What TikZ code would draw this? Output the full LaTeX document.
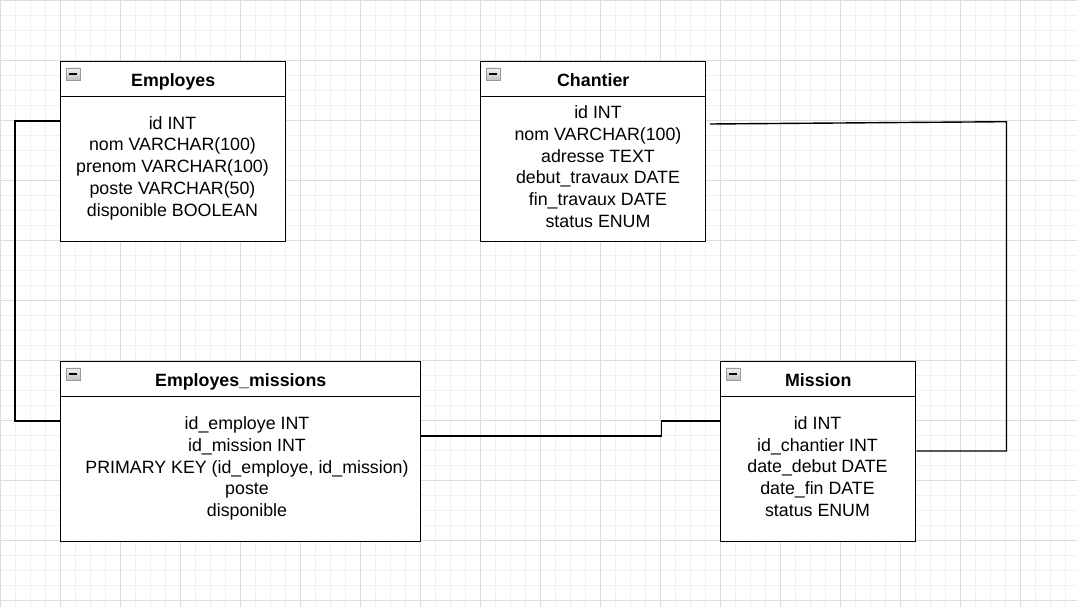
\documentclass[tikz,border=0pt]{standalone}
\usepackage{fontspec}
\setmainfont{Liberation Sans}
\usetikzlibrary{calc}
\definecolor{gridminor}{HTML}{F0F0F0}
\definecolor{gridmajor}{HTML}{DCDCDC}
\newcommand{\us}{\textunderscore}
\begin{document}
\begin{tikzpicture}[x=0.75pt,y=-0.75pt,
  tablehead/.style={draw=black, line width=1.1pt, fill=white, rectangle, anchor=north west,
    inner sep=0pt, minimum height=26.25pt, text height=10.95pt, text depth=0pt,
    font=\fontsize{13.35}{16.3}\selectfont\bfseries},
  tablebody/.style={draw=black, line width=1.1pt, fill=white, rectangle, anchor=north west,
    inner sep=0pt, minimum height=108.75pt},
  fieldtext/.style={align=center, inner sep=0pt, font=\fontsize{13.35}{16.3}\selectfont},
  conn/.style={draw=black, line width=1.05pt},
  minusicon/.style={rectangle, anchor=north west, inner sep=0pt, minimum width=10.2pt,
    minimum height=9.4pt, draw=gray!80, line width=0.6pt, top color=gray!12, bottom color=gray!50,
    path picture={\draw[black, line width=1.3pt]
      ([xshift=2.2pt]path picture bounding box.west) -- ([xshift=-2.2pt]path picture bounding box.east);}},
  gmin/.style={draw=gridminor, line width=0.75pt},
  gmaj/.style={draw=gridmajor, line width=0.75pt}
]
\useasboundingbox (0,0) rectangle (1077,607);
\fill[white] (0,0) rectangle (1077,607);
% grid
\foreach \i in {0,15,...,1080} \draw[gmin] (\i,0) -- (\i,607);
\foreach \j in {0,15,...,600} \draw[gmin] (0,\j) -- (1077,\j);
\foreach \i in {0,60,...,1080} \draw[gmaj] (\i,0) -- (\i,607);
\foreach \j in {0,60,...,600} \draw[gmaj] (0,\j) -- (1077,\j);

% Employes
\node[tablehead, minimum width=168.75pt] (emph) at (60,61) {Employes};
\node[tablebody, minimum width=168.75pt] (empb) at (60,96) {};
\node[minusicon] (empi) at (66,67.5) {};
\node[fieldtext] (empt) at (172.5,168) {id INT\\nom VARCHAR(100)\\prenom VARCHAR(100)\\poste VARCHAR(50)\\disponible BOOLEAN};

% Chantier
\node[tablehead, minimum width=168.75pt] (chah) at (480,61) {Chantier};
\node[tablebody, minimum width=168.75pt] (chab) at (480,96) {};
\node[minusicon] (chai) at (486,67.5) {};
\node[fieldtext] (chat) at (598,166.5) {id INT\\nom VARCHAR(100)\\adresse TEXT\\debut\us travaux DATE\\fin\us travaux DATE\\status ENUM};

% Employes_missions
\node[tablehead, minimum width=270pt] (emmh) at (60,361) {Employes\us missions};
\node[tablebody, minimum width=270pt] (emmb) at (60,396) {};
\node[minusicon] (emmi) at (66,367.5) {};
\node[fieldtext] (emmt) at (247,468.5) {id\us employe INT\\id\us mission INT\\PRIMARY KEY (id\us employe, id\us mission)\\poste\\disponible};

% Mission
\node[tablehead, minimum width=146.25pt] (mish) at (720,361) {Mission};
\node[tablebody, minimum width=146.25pt] (misb) at (720,396) {};
\node[minusicon] (misi) at (726,367.5) {};
\node[fieldtext] (mist) at (817.5,466.5) {id INT\\id\us chantier INT\\date\us debut DATE\\date\us fin DATE\\status ENUM};

% connectors
\coordinate (chend) at ([xshift=2.5pt,yshift=-21pt]chab.north east);
\draw[conn] ([yshift=-18.75pt]empb.north west) -- ++(-45,0) |- ([yshift=-18.75pt]emmb.north west);
\draw[conn] ([yshift=-30pt]emmb.north east) -- ++(240,0) |- ([yshift=-18.75pt]misb.north west);
\draw[conn] ([yshift=-41.25pt]misb.north east) -- ++(90,0) -- ++(0,-329.3) -- (chend);
\end{tikzpicture}
\end{document}
